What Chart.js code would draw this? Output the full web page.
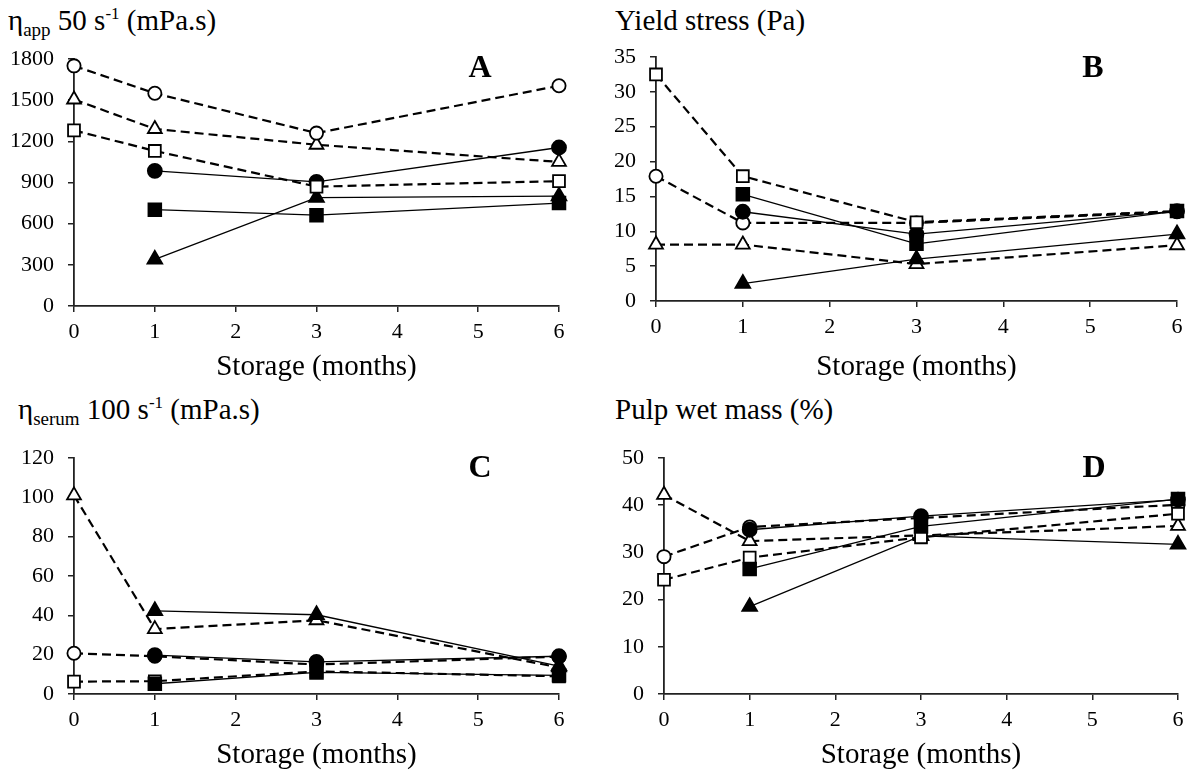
<!DOCTYPE html>
<html>
<head>
<meta charset="utf-8">
<script src="https://cdn.jsdelivr.net/npm/chart.js@4/dist/chart.umd.min.js"></script>
<style>
  html, body { margin: 0; padding: 0; background: #fff; }
  body { width: 1190px; height: 776px; position: relative; overflow: hidden; font-family: "Liberation Serif", "Times New Roman", serif; color: #000; }
  .box { position: absolute; }
  .ttl { position: absolute; font-size: 29px; line-height: 1; white-space: nowrap; }
  .ttl sub { font-size: 19px; vertical-align: -6px; line-height: 0; }
  .ttl sup { font-size: 17px; vertical-align: 11px; line-height: 0; }
  .let { position: absolute; font-size: 32px; font-weight: bold; line-height: 1; width: 40px; text-align: center; }
</style>
</head>
<body>
<div class="ttl" style="left:8px; top:6px;">η<sub>app</sub> 50 s<sup>-1</sup> (mPa.s)</div>
<div class="ttl" style="left:615px; top:6px;">Yield stress (Pa)</div>
<div class="ttl" style="left:18px; top:395px;">η<sub>serum</sub> 100 s<sup>-1</sup> (mPa.s)</div>
<div class="ttl" style="left:615px; top:395px;">Pulp wet mass (%)</div>

<div class="box" style="left:0px; top:40px; width:590px; height:360px;"><canvas id="cA" width="590" height="360"></canvas></div>
<div class="box" style="left:590px; top:40px; width:600px; height:360px;"><canvas id="cB" width="600" height="360"></canvas></div>
<div class="box" style="left:0px; top:400px; width:590px; height:376px;"><canvas id="cC" width="590" height="376"></canvas></div>
<div class="box" style="left:590px; top:400px; width:600px; height:376px;"><canvas id="cD" width="600" height="376"></canvas></div>

<div class="let" style="left:460px; top:50px;">A</div>
<div class="let" style="left:1073px; top:50px;">B</div>
<div class="let" style="left:460px; top:450px;">C</div>
<div class="let" style="left:1074px; top:450px;">D</div>

<script>
// ---- data (storage months) ----
const months = [0, 1, 3, 6];
const xAxisTitle = "Storage (months)";

// Panel A: apparent viscosity at 50 s-1 (mPa.s)
const A_openCircle     = [1750, 1550, 1260, 1605];
const A_openTriangle   = [1505, 1290, 1175, 1050];
const A_openSquare     = [1280, 1130, 870, 910];
const A_filledCircle   = [null, 985, 905, 1155];
const A_filledSquare   = [null, 702, 662, 750];
const A_filledTriangle = [null, 340, 790, 800];

// Panel B: yield stress (Pa)
const B_openCircle     = [17.9, 11.2, 11.2, 12.8];
const B_openTriangle   = [8.1, 8.1, 5.3, 8.0];
const B_openSquare     = [32.5, 17.9, 11.3, 12.9];
const B_filledCircle   = [null, 12.8, 9.6, 12.9];
const B_filledSquare   = [null, 15.3, 8.2, 12.9];
const B_filledTriangle = [null, 2.5, 6.0, 9.6];

// Panel C: serum viscosity at 100 s-1 (mPa.s)
const C_openCircle     = [20.7, 19.2, 15.0, 19.0];
const C_openTriangle   = [101, 33.0, 37.5, 13.5];
const C_openSquare     = [6.3, 6.5, 11.5, 9.0];
const C_filledCircle   = [null, 19.8, 16.3, 19.2];
const C_filledSquare   = [null, 5.2, 11.0, 9.5];
const C_filledTriangle = [null, 42.3, 40.3, 14.2];

// Panel D: pulp wet mass (%)
const D_openCircle     = [29.1, 35.4, 37.3, 40.1];
const D_openTriangle   = [42.2, 32.4, 33.6, 35.6];
const D_openSquare     = [24.2, 28.9, 33.2, 38.2];
const D_filledCircle   = [null, 34.8, 37.7, 41.2];
const D_filledSquare   = [null, 26.5, 35.5, 41.3];
const D_filledTriangle = [null, 18.5, 33.5, 31.7];

// y-axis tick ranges
const A_yTicks = { max: 1800, step: 300 };
const B_yTicks = { max: 35, step: 5 };
const C_yTicks = { max: 120, step: 20 };
const D_yTicks = { max: 50, step: 10 };

// ---- styles ----
const SERIF = "'Liberation Serif', 'Times New Roman', serif";
Chart.defaults.font.family = SERIF;
Chart.defaults.font.size = 22;
Chart.defaults.color = '#000';

const styleOf = {
  openCircle:     { ps: 'circle',   fill: '#fff', dash: true,  r: 6.6 },
  openTriangle:   { ps: 'triangle', fill: '#fff', dash: true,  r: 8 },
  openSquare:     { ps: 'rect',     fill: '#fff', dash: true,  r: 8.4 },
  filledCircle:   { ps: 'circle',   fill: '#000', dash: false, r: 7 },
  filledSquare:   { ps: 'rect',     fill: '#000', dash: false, r: 9 },
  filledTriangle: { ps: 'triangle', fill: '#000', dash: false, r: 8.5 }
};

function pts(vals) {
  const out = [];
  months.forEach((m, i) => { if (vals[i] !== null) out.push({ x: m, y: vals[i] }); });
  return out;
}

function ds(key, vals) {
  const s = styleOf[key];
  return {
    label: key,
    data: pts(vals),
    borderColor: '#000',
    borderWidth: s.dash ? 2.2 : 1.3,
    borderDash: s.dash ? [9, 5] : [],
    pointStyle: s.ps,
    pointRadius: s.r,
    pointBackgroundColor: s.fill,
    pointBorderColor: '#000',
    pointBorderWidth: 1.8,
    pointHoverRadius: s.r,
    tension: 0,
    fill: false,
    clip: false
  };
}

const tickFont = { family: SERIF, size: 22 };

function makeChart(id, series, yT, geo) {
  // first dataset is drawn on top
  const datasets = [
    ds('filledSquare', series.filledSquare),
    ds('openSquare', series.openSquare),
    ds('filledCircle', series.filledCircle),
    ds('filledTriangle', series.filledTriangle),
    ds('openCircle', series.openCircle),
    ds('openTriangle', series.openTriangle)
  ];
  new Chart(document.getElementById(id), {
    type: 'line',
    data: { datasets },
    options: {
      responsive: false,
      animation: false,
      devicePixelRatio: 1,
      layout: { padding: { top: geo.top, right: geo.right, left: 0, bottom: 0 } },
      plugins: { legend: { display: false }, tooltip: { enabled: false }, title: { display: false } },
      events: [],
      scales: {
        x: {
          type: 'linear', min: 0, max: 6,
          ticks: { stepSize: 1, color: '#000', padding: 7, font: tickFont, callback: (v) => String(v) },
          grid: { display: true, drawOnChartArea: false, drawTicks: true, tickLength: 6, color: '#222', lineWidth: 1.5 },
          border: { display: true, color: '#222', width: 1.8 },
          title: { display: true, text: xAxisTitle, color: '#000', font: { family: SERIF, size: 29 }, padding: { top: 0, bottom: geo.titlePad } },
          afterFit: (sc) => { sc.height = geo.xh; sc.paddingLeft = 0; sc.paddingRight = 0; }
        },
        y: {
          type: 'linear', min: 0, max: yT.max,
          ticks: { stepSize: yT.step, color: '#000', padding: 14, font: tickFont, callback: (v) => String(v) },
          grid: { display: true, drawOnChartArea: false, drawTicks: true, tickLength: 6, color: '#222', lineWidth: 1.5 },
          border: { display: true, color: '#222', width: 1.8 },
          afterFit: (sc) => { sc.width = geo.yw; sc.paddingTop = 0; sc.paddingBottom = 0; }
        }
      }
    }
  });
}

makeChart('cA', {
  openCircle: A_openCircle, openTriangle: A_openTriangle, openSquare: A_openSquare,
  filledCircle: A_filledCircle, filledSquare: A_filledSquare, filledTriangle: A_filledTriangle
}, A_yTicks, { top: 19, right: 31, yw: 74, xh: 94, titlePad: 15.6 });

makeChart('cB', {
  openCircle: B_openCircle, openTriangle: B_openTriangle, openSquare: B_openSquare,
  filledCircle: B_filledCircle, filledSquare: B_filledSquare, filledTriangle: B_filledTriangle
}, B_yTicks, { top: 17, right: 13, yw: 66, xh: 99, titlePad: 15.6 });

makeChart('cC', {
  openCircle: C_openCircle, openTriangle: C_openTriangle, openSquare: C_openSquare,
  filledCircle: C_filledCircle, filledSquare: C_filledSquare, filledTriangle: C_filledTriangle
}, C_yTicks, { top: 58, right: 31, yw: 74, xh: 82, titlePad: 3.6 });

makeChart('cD', {
  openCircle: D_openCircle, openTriangle: D_openTriangle, openSquare: D_openSquare,
  filledCircle: D_filledCircle, filledSquare: D_filledSquare, filledTriangle: D_filledTriangle
}, D_yTicks, { top: 58, right: 12, yw: 74, xh: 82, titlePad: 3.6 });
</script>
</body>
</html>
